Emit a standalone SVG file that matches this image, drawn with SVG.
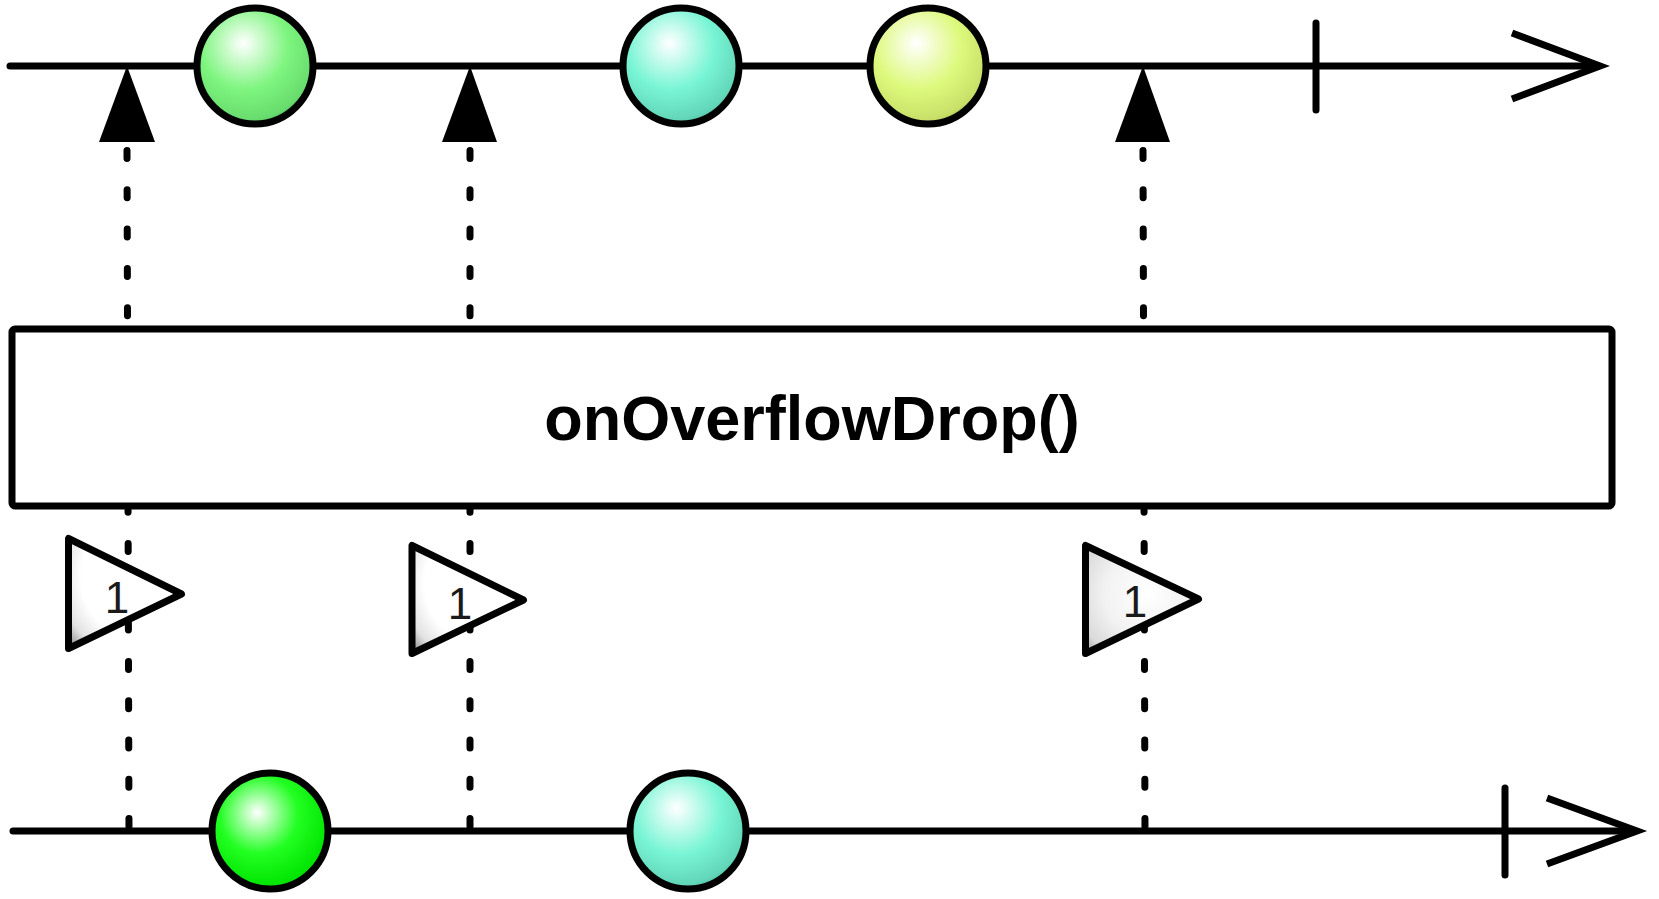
<svg xmlns="http://www.w3.org/2000/svg" width="1659" height="899" viewBox="0 0 1659 899">
<style>
.axis{stroke:#000;stroke-width:7;fill:none;stroke-linecap:round}
.head{stroke:#000;stroke-width:7;fill:none;stroke-linejoin:miter;stroke-miterlimit:10}
.tick{stroke:#000;stroke-width:7;stroke-linecap:round}
.dash{stroke:#000;stroke-width:7;stroke-linecap:round;stroke-dasharray:8 31.3;fill:none}
.ball{stroke:#000;stroke-width:7}
.req{fill:#000}
.tri{stroke:#000;stroke-width:7;stroke-linejoin:round}
.op{fill:#fff;stroke:#000;stroke-width:7}
</style>
<defs>
<radialGradient id="gGreen" cx="0.42" cy="0.36" r="0.75" fx="0.4" fy="0.3">
<stop offset="0" stop-color="#ffffff"/><stop offset="0.5" stop-color="#7ef57f"/><stop offset="0.82" stop-color="#68dc6d"/><stop offset="1" stop-color="#3d9648"/>
</radialGradient>
<radialGradient id="gCyan" cx="0.42" cy="0.36" r="0.75" fx="0.4" fy="0.3">
<stop offset="0" stop-color="#ffffff"/><stop offset="0.5" stop-color="#78f5d4"/><stop offset="0.82" stop-color="#62d6b8"/><stop offset="1" stop-color="#3d8f7c"/>
</radialGradient>
<radialGradient id="gYellow" cx="0.42" cy="0.36" r="0.75" fx="0.4" fy="0.3">
<stop offset="0" stop-color="#ffffff"/><stop offset="0.5" stop-color="#ddf97c"/><stop offset="0.82" stop-color="#c8e068"/><stop offset="1" stop-color="#869642"/>
</radialGradient>
<radialGradient id="gLime" cx="0.42" cy="0.38" r="0.75" fx="0.39" fy="0.34">
<stop offset="0" stop-color="#ffffff"/><stop offset="0.45" stop-color="#22ff22"/><stop offset="0.82" stop-color="#00e400"/><stop offset="1" stop-color="#009012"/>
</radialGradient>
<radialGradient id="gTri" cx="0.7" cy="0.35" r="0.95" fx="0.7" fy="0.35">
<stop offset="0" stop-color="#ffffff"/><stop offset="0.62" stop-color="#ffffff"/><stop offset="0.82" stop-color="#e2e2e2"/><stop offset="1" stop-color="#808080"/>
</radialGradient>
<radialGradient id="gTri3" cx="0.55" cy="0.45" r="0.85" fx="0.55" fy="0.45">
<stop offset="0" stop-color="#ffffff"/><stop offset="0.45" stop-color="#f2f2f2"/><stop offset="0.75" stop-color="#dadada"/><stop offset="1" stop-color="#7a7a7a"/>
</radialGradient>
</defs>
<rect width="1659" height="899" fill="#fff"/>
<g id="connectors">
<line class="dash" x1="127" y1="150.5" x2="129" y2="834"/>
<line class="dash" x1="470" y1="150.5" x2="470" y2="834"/>
<line class="dash" x1="1143" y1="150.5" x2="1145" y2="834"/>
</g>
<g id="source-timeline">
<line class="axis" x1="10" y1="66" x2="1598" y2="66"/>
<polyline class="head" points="1512,33 1600,66 1512,99"/>
<line class="tick" x1="1316" y1="23" x2="1316" y2="110"/>
</g>
<g id="result-timeline">
<line class="axis" x1="13" y1="831" x2="1635" y2="831"/>
<polyline class="head" points="1547,798 1637,831 1547,864"/>
<line class="tick" x1="1505" y1="788" x2="1505" y2="875"/>
</g>
<g id="operator">
<rect class="op" x="12" y="329" width="1600" height="177" rx="3"/>
<text x="812" y="440" font-family="Liberation Sans, Arial, sans-serif" font-size="63" font-weight="bold" text-anchor="middle" fill="#000">onOverflowDrop()</text>
</g>
<g id="request-1"><polygon class="req" points="127,66 99,142 155,142"/></g>
<g id="request-2"><polygon class="req" points="470,66 442,142 497,142"/></g>
<g id="request-3"><polygon class="req" points="1143,66 1115,142 1170,142"/></g>
<g id="source-item-1"><circle class="ball" cx="255" cy="66" r="58" fill="url(#gGreen)"/></g>
<g id="source-item-2"><circle class="ball" cx="681" cy="66" r="58" fill="url(#gCyan)"/></g>
<g id="source-item-3"><circle class="ball" cx="928" cy="66" r="58" fill="url(#gYellow)"/></g>
<g id="result-item-1"><circle class="ball" cx="270" cy="831" r="58" fill="url(#gLime)"/></g>
<g id="result-item-2"><circle class="ball" cx="688" cy="831" r="58" fill="url(#gCyan)"/></g>
<g id="demand-1">
<polygon class="tri" points="68.5,538.5 68.5,648.5 181.5,594" fill="url(#gTri)"/>
<text x="117" y="613" font-family="Liberation Sans, Arial, sans-serif" font-size="44" text-anchor="middle" fill="#1a1a1a">1</text>
</g>
<g id="demand-2">
<polygon class="tri" points="412,545.5 412,653.5 523.5,600" fill="url(#gTri)"/>
<text x="460" y="619" font-family="Liberation Sans, Arial, sans-serif" font-size="44" text-anchor="middle" fill="#1a1a1a">1</text>
</g>
<g id="demand-3">
<polygon class="tri" points="1085.5,545.5 1085.5,653.5 1198.5,599" fill="url(#gTri3)"/>
<text x="1135" y="617" font-family="Liberation Sans, Arial, sans-serif" font-size="44" text-anchor="middle" fill="#1a1a1a">1</text>
</g>
</svg>
